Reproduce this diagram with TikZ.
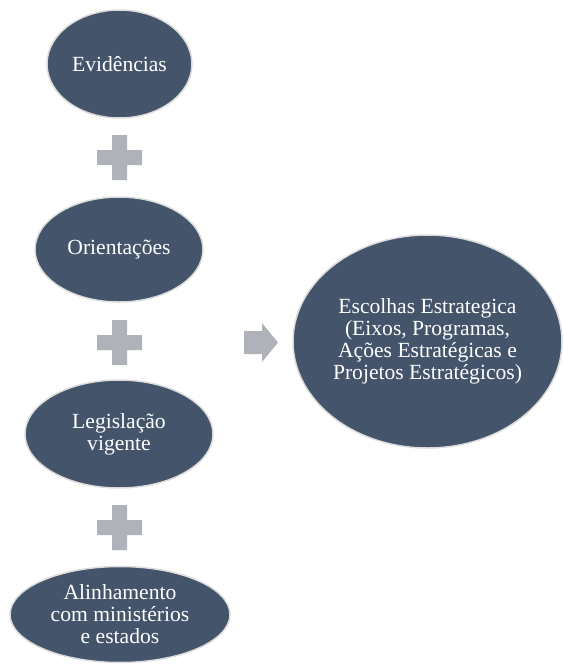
\documentclass[tikz,border=0pt]{standalone}
\usepackage{fontspec}
\setmainfont{Liberation Serif}
\usetikzlibrary{shapes.geometric}
\definecolor{ellfill}{HTML}{44546A}
\definecolor{ellline}{HTML}{DCDCDC}
\definecolor{plusgray}{HTML}{AFB2B9}
\tikzset{
  oval/.style={ellipse, fill=ellfill, draw=ellline, line width=1.5pt, inner sep=0pt,
    text=white, align=center, font=\fontsize{21.6}{22}\selectfont},
  plusshape/.style={fill=plusgray},
}
\begin{document}
\begin{tikzpicture}[x=1pt,y=-1pt]
\useasboundingbox (0,0) rectangle (564,665);
\node[oval, minimum width=145, minimum height=108] (e1) at (119.5,64) {Evidências};
\node[oval, minimum width=168, minimum height=105] (e2) at (119,249.5) {Orientações};
\node[oval, minimum width=188, minimum height=108] (e3) at (119,434) {Legislação\\vigente};
\node[oval, minimum width=220, minimum height=96] (e4) at (120,614.5) {Alinhamento\\com ministérios\\e estados};
\node[oval, minimum width=269, minimum height=213] (e5) at (427.5,341.5) {Escolhas Estrategica\\(Eixos, Programas,\\Ações Estratégicas e\\Projetos Estratégicos)};
% plus signs
\foreach \cy [count=\i] in {157.5,342.5,527.5}{
  \coordinate (p\i) at (119.5,\cy);
  \fill[plusshape] ([shift={(-7.5,-22.5)}]p\i) -- ([shift={(7.5,-22.5)}]p\i) -- ([shift={(7.5,-7.5)}]p\i)
    -- ([shift={(22.5,-7.5)}]p\i) -- ([shift={(22.5,7.5)}]p\i) -- ([shift={(7.5,7.5)}]p\i)
    -- ([shift={(7.5,22.5)}]p\i) -- ([shift={(-7.5,22.5)}]p\i) -- ([shift={(-7.5,7.5)}]p\i)
    -- ([shift={(-22.5,7.5)}]p\i) -- ([shift={(-22.5,-7.5)}]p\i) -- ([shift={(-7.5,-7.5)}]p\i) -- cycle;
}
% arrow
\coordinate (ar) at (244,342.5);
\fill[plusshape] ([shift={(0,-11.5)}]ar) -- ([shift={(18,-11.5)}]ar) -- ([shift={(18,-19.5)}]ar)
  -- ([shift={(34,0)}]ar) -- ([shift={(18,19.5)}]ar) -- ([shift={(18,11.5)}]ar) -- ([shift={(0,11.5)}]ar) -- cycle;
\end{tikzpicture}
\end{document}
